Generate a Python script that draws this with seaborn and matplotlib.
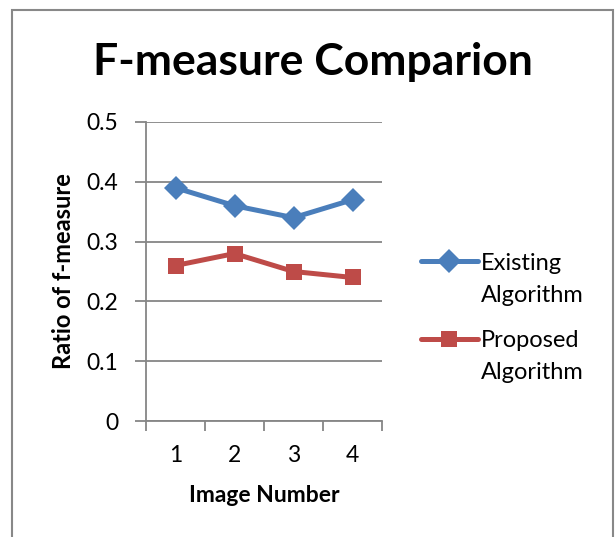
import numpy as np
import pandas as pd
import matplotlib
matplotlib.use("Agg")
import matplotlib.pyplot as plt
import seaborn as sns
from matplotlib.patches import Rectangle
from matplotlib.ticker import FixedLocator

# data
image_number = [1, 2, 3, 4]
existing = [0.39, 0.36, 0.34, 0.37]
proposed = [0.26, 0.28, 0.25, 0.24]
series_names = ["Existing\nAlgorithm", "Proposed\nAlgorithm"]

df = pd.DataFrame({
    "Image Number": image_number * 2,
    "value": existing + proposed,
    "series": [series_names[0]] * 4 + [series_names[1]] * 4,
})

sns.set_style("white")
plt.rcParams["font.family"] = ["Lato", "DejaVu Sans"]
plt.rcParams["text.color"] = "black"
plt.rcParams["axes.labelcolor"] = "black"

W, H = 616, 537
fig = plt.figure(figsize=(W / 100, H / 100), dpi=100)
ax = fig.add_axes([146 / W, 1 - 421 / H, (382 - 146) / W, (421 - 122) / H])

grid_col = "#868686"
sns.lineplot(data=df, x="Image Number", y="value", hue="series", style="series",
             palette=["#4A7EBB", "#BE4B48"], markers=["D", "s"], dashes=False,
             linewidth=3.6, markersize=12, markeredgewidth=0, ax=ax)

ax.set_xlim(0.5, 4.5)
ax.set_ylim(0, 0.5)
ax.set_yticks(np.arange(0, 0.51, 0.1))
ax.set_yticklabels(["0", "0.1", "0.2", "0.3", "0.4", "0.5"])
ax.yaxis.grid(True, color=grid_col, linewidth=1.3)
ax.set_axisbelow(True)

ax.set_xticks(image_number)
ax.xaxis.set_minor_locator(FixedLocator([0.5, 1.5, 2.5, 3.5, 4.5]))
ax.tick_params(axis="x", which="major", length=0, pad=17, labelsize=16.5, labelcolor="black")
ax.tick_params(axis="x", which="minor", length=7, width=1.3, color=grid_col, direction="out", bottom=True)
ax.tick_params(axis="y", length=8, width=1.3, color=grid_col, direction="out", left=True, pad=12,
               labelsize=16.5, labelcolor="black")

for s in ["top", "right"]:
    ax.spines[s].set_visible(False)
for s in ["left", "bottom"]:
    ax.spines[s].set_color(grid_col)
    ax.spines[s].set_linewidth(1.3)

ax.set_xlabel("Image Number", fontsize=16.5, fontweight="bold", labelpad=14)
ax.set_ylabel("Ratio of f-measure", fontsize=17, fontweight="bold", labelpad=8)

leg = ax.legend(loc="center left", bbox_to_anchor=(421 / W, 1 - 318 / H),
                bbox_transform=fig.transFigure, frameon=False, fontsize=17,
                handlelength=2.4, handletextpad=0.12, labelspacing=1.05,
                borderpad=0, borderaxespad=0)
for t in leg.get_texts():
    t.set_linespacing(1.65)
# line handle sits next to the first text line, like the Excel legend
for col in leg._legend_handle_box.get_children():
    for row in col.get_children():
        row.align = "top"

fig.text(313 / W, 1 - 62 / H, "F-measure Comparion", ha="center", va="center",
         fontsize=32, fontweight="bold")

fig.patches.append(Rectangle((12 / W, -0.1), (613 - 12) / W, 1.1 - 10 / H,
                             transform=fig.transFigure, fill=False,
                             edgecolor="#888888", linewidth=1.5))

fig.savefig("out.png", dpi=100)
